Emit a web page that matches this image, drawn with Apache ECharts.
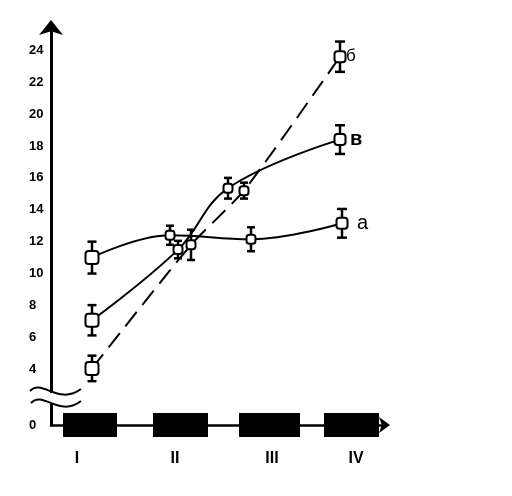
<!DOCTYPE html>
<html>
<head>
<meta charset="utf-8">
<script src="https://cdn.jsdelivr.net/npm/echarts@6/dist/echarts.min.js"></script>
<style>
  html, body {
    margin: 0;
    padding: 0;
    background: #ffffff;
  }

  #chart {
    width: 512px;
    height: 496px;
  }
</style>
</head>
<body>
<div id="chart"></div>
<script>
// x positions are in tens of pixels from the vertical axis
const seriesNames = ["а", "б", "в"];

const seriesX = [
  [4.1, 11.9, 20.0, 29.1],
  [4.1, 14.0, 19.3, 28.9],
  [4.1, 12.7, 17.7, 28.9],
];

const seriesY = [
  [11.0, 12.4, 12.15, 13.15],
  [4.05, 11.8, 15.2, 23.6],
  [7.07, 11.5, 15.35, 18.4],
];

const seriesError = [
  [1.0, 0.6, 0.75, 0.9],
  [0.8, 0.95, 0.5, 0.95],
  [0.95, 0.55, 0.65, 0.9],
];

const periodNames = ["I", "II", "III", "IV"];
const periodLabelX = [2.6, 12.4, 22.1, 30.5];
const periodStart = [1.2, 10.2, 18.8, 27.3];
const periodEnd = [6.6, 15.7, 24.9, 32.8];

const yTickValues = [0.5, 4, 6, 8, 10, 12, 14, 16, 18, 20, 22, 24];
const yTickLabels = ["0", "4", "6", "8", "10", "12", "14", "16", "18", "20", "22", "24"];

const Y_MIN = 0.5;
const Y_MAX = 25.4;
const X_MAX = 33.5;

const lineStyles = [
  { type: "solid" },
  { type: [18, 9] },
  { type: "solid" },
];

const labelDistance = [15, 6, 10];
const labelFonts = [
  { fontSize: 20, fontWeight: "normal" },
  { fontSize: 17, fontWeight: "normal" },
  { fontSize: 20, fontWeight: "bold" },
];


function buildLineSeries(index) {
  return {
    name: seriesNames[index],
    type: "line",
    smooth: index === 1 ? 0.2 : 0.4,
    showSymbol: false,
    z: 3,
    lineStyle: {
      color: "#000000",
      width: 2,
      ...lineStyles[index],
    },
    endLabel: {
      show: true,
      formatter: seriesNames[index],
      distance: labelDistance[index],
      color: "#000000",
      fontFamily: "Liberation Sans, Arial, sans-serif",
      ...labelFonts[index],
    },
    data: seriesX[index].map((x, i) => {
      return [x, seriesY[index][i]];
    }),
  };
}


function buildErrorSeries(index) {
  const count = seriesX[index].length;

  return {
    type: "custom",
    z: 5,
    silent: true,
    data: seriesX[index].map((x, i) => {
      return [x, seriesY[index][i], seriesError[index][i]];
    }),
    renderItem: (params, api) => {
      const x = api.value(0);
      const y = api.value(1);
      const err = api.value(2);
      const center = api.coord([x, y]);
      const top = api.coord([x, y + err]);
      const bottom = api.coord([x, y - err]);
      const i = params.dataIndex;

      let size = 9;
      let cap = 8;

      if (i === 0) {
        size = 13;
        cap = 9;
      } else if (i === count - 1) {
        size = 11;
        cap = 10;
      }

      const stroke = {
        stroke: "#000000",
        lineWidth: 2.5,
      };

      return {
        type: "group",
        children: [
          {
            type: "line",
            shape: {
              x1: center[0],
              y1: top[1],
              x2: center[0],
              y2: bottom[1],
            },
            style: stroke,
          },
          {
            type: "line",
            shape: {
              x1: center[0] - cap / 2,
              y1: top[1],
              x2: center[0] + cap / 2,
              y2: top[1],
            },
            style: stroke,
          },
          {
            type: "line",
            shape: {
              x1: center[0] - cap / 2,
              y1: bottom[1],
              x2: center[0] + cap / 2,
              y2: bottom[1],
            },
            style: stroke,
          },
          {
            type: "rect",
            shape: {
              x: center[0] - size / 2,
              y: center[1] - size / 2,
              width: size,
              height: size,
              r: 3,
            },
            style: {
              fill: "#ffffff",
              stroke: "#000000",
              lineWidth: 2,
            },
          },
        ],
      };
    },
  };
}


function buildPeriodSeries() {
  return {
    type: "custom",
    z: 4,
    silent: true,
    data: periodStart.map((start, i) => {
      return [start, periodEnd[i]];
    }),
    renderItem: (params, api) => {
      const left = api.coord([api.value(0), Y_MIN]);
      const right = api.coord([api.value(1), Y_MIN]);

      return {
        type: "rect",
        shape: {
          x: left[0],
          y: left[1] - 12,
          width: right[0] - left[0],
          height: 24,
        },
        style: {
          fill: "#000000",
        },
      };
    },
  };
}


const chart = echarts.init(
  document.getElementById("chart"),
  null,
  { renderer: "canvas" },
);

chart.setOption({
  animation: false,
  backgroundColor: "#ffffff",
  grid: {
    left: 51,
    top: 28,
    width: 335,
    height: 397,
  },
  xAxis: {
    type: "value",
    min: 0,
    max: X_MAX,
    splitLine: { show: false },
    axisTick: { show: false },
    axisLine: {
      show: true,
      onZero: false,
      symbol: ["none", "arrow"],
      symbolSize: [12, 11],
      symbolOffset: [0, 4],
      lineStyle: {
        color: "#000000",
        width: 2.5,
      },
    },
    axisLabel: {
      customValues: periodLabelX,
      margin: 26,
      color: "#000000",
      fontFamily: "Liberation Sans, Arial, sans-serif",
      fontSize: 16,
      fontWeight: "bold",
      formatter: (value) => {
        const i = periodLabelX.indexOf(value);
        return i >= 0 ? periodNames[i] : "";
      },
    },
  },
  yAxis: {
    type: "value",
    min: Y_MIN,
    max: Y_MAX,
    splitLine: { show: false },
    axisTick: { show: false },
    axisLine: {
      show: true,
      onZero: false,
      symbol: ["none", "arrow"],
      symbolSize: [18, 15],
      symbolOffset: [0, 8],
      lineStyle: {
        color: "#000000",
        width: 3,
      },
    },
    axisLabel: {
      customValues: yTickValues,
      align: "left",
      margin: 22,
      color: "#000000",
      fontFamily: "Liberation Sans, Arial, sans-serif",
      fontSize: 13,
      fontWeight: "bold",
      formatter: (value) => {
        const i = yTickValues.indexOf(value);
        return i >= 0 ? yTickLabels[i] : "";
      },
    },
  },
  // axis break marks
  graphic: [
    {
      type: "rect",
      shape: { x: 46, y: 393, width: 10, height: 11 },
      style: { fill: "#ffffff" },
      z: 100,
    },
    {
      type: "bezierCurve",
      shape: {
        x1: 30, y1: 391,
        cpx1: 42, cpy1: 378,
        cpx2: 58, cpy2: 406,
        x2: 81, y2: 389,
      },
      style: { stroke: "#000000", lineWidth: 2, fill: null },
      z: 101,
    },
    {
      type: "bezierCurve",
      shape: {
        x1: 31, y1: 403,
        cpx1: 43, cpy1: 390,
        cpx2: 59, cpy2: 418,
        x2: 81, y2: 401,
      },
      style: { stroke: "#000000", lineWidth: 2, fill: null },
      z: 101,
    },
  ],
  series: [
    buildPeriodSeries(),
    buildLineSeries(0),
    buildLineSeries(1),
    buildLineSeries(2),
    buildErrorSeries(0),
    buildErrorSeries(1),
    buildErrorSeries(2),
  ],
});
</script>
</body>
</html>
